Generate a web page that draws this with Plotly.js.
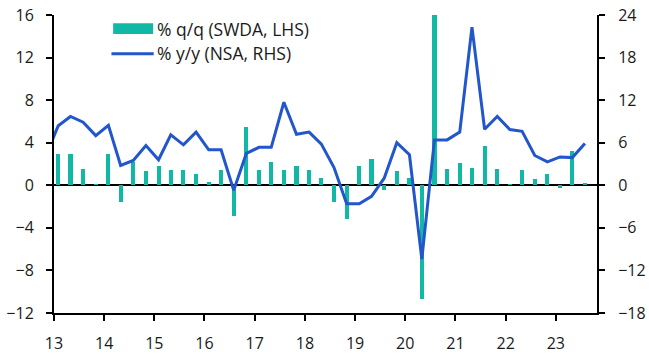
<!DOCTYPE html>
<html>
<head>
<meta charset="utf-8">
<script src="https://cdn.plot.ly/plotly-3.0.1.min.js"></script>
<style>html,body{margin:0;padding:0;background:#fff;}#chart{width:649px;height:356px;}</style>
</head>
<body>
<div id="chart"></div>
<script>
// Quarter dates (mid-quarter month start), 2012Q4 .. 2023Q3
const dates = [
  '2012-11-01',
  '2013-02-01','2013-05-01','2013-08-01','2013-11-01',
  '2014-02-01','2014-05-01','2014-08-01','2014-11-01',
  '2015-02-01','2015-05-01','2015-08-01','2015-11-01',
  '2016-02-01','2016-05-01','2016-08-01','2016-11-01',
  '2017-02-01','2017-05-01','2017-08-01','2017-11-01',
  '2018-02-01','2018-05-01','2018-08-01','2018-11-01',
  '2019-02-01','2019-05-01','2019-08-01','2019-11-01',
  '2020-02-01','2020-05-01','2020-08-01','2020-11-01',
  '2021-02-01','2021-05-01','2021-08-01','2021-11-01',
  '2022-02-01','2022-05-01','2022-08-01','2022-11-01',
  '2023-02-01','2023-05-01','2023-08-01'
];
// % q/q (SWDA, LHS)
const qoq = [
  null,
  2.9, 2.9, 1.5, 0.15,
  2.9, -1.6, 2.2, 1.3,
  1.85, 1.45, 1.4, 1.1,
  0.35, 1.4, -2.9, 5.5,
  1.4, 2.2, 1.45, 1.85,
  1.45, 0.65, -1.6, -3.2,
  1.85, 2.5, -0.4, 1.3,
  0.65, -10.7, 16.5, 1.5,
  2.05, 1.65, 3.65, 1.55,
  0.15, 1.4, 0.55, 1.1,
  -0.3, 3.25, 0.25
];
// % y/y (NSA, RHS)
const yoy = [
  4.1,
  8.4, 9.7, 8.9, 7.0,
  8.45, 2.8, 3.5, 5.6,
  3.6, 7.1, 5.7, 7.5,
  5.0, 5.0, -0.7, 4.5,
  5.35, 5.35, 11.7, 7.2,
  7.5, 5.8, 2.5, -2.6,
  -2.6, -1.55, 1.0, 6.0,
  4.3, -10.4, 6.4, 6.4,
  7.5, 22.3, 7.9, 9.7,
  7.85, 7.6, 4.2, 3.3,
  4.0, 3.9, 5.9
];
const yearTicks = ['2013-01-01','2014-01-01','2015-01-01','2016-01-01','2017-01-01','2018-01-01','2019-01-01','2020-01-01','2021-01-01','2022-01-01','2023-01-01'];
const yearLabels = ['13','14','15','16','17','18','19','20','21','22','23'];
const leftTicks = [-12,-8,-4,0,4,8,12,16];
const rightTicks = [-18,-12,-6,0,6,12,18,24];
const seriesNames = ['% q/q (SWDA, LHS)', '% y/y (NSA, RHS)'];

const teal = '#12B8A6';
const blue = '#2156CC';
const W = 649, H = 356;
const M = {l: 53.5, r: 52, t: 15, b: 43};
const pw = W - M.l - M.r, ph = H - M.t - M.b;
const px = x => (x - M.l) / pw;
const py = y => 1 - (y - M.t) / ph;

const font = {family: '"Open Sans", "Noto Sans", sans-serif', size: 16, color: '#1a1a1a'};
const legendFont = Object.assign({}, font, {size: 17.5});

const traces = [
  {type: 'bar', x: dates, y: qoq, name: seriesNames[0], marker: {color: teal},
   width: 30 * 86400000, yaxis: 'y', hoverinfo: 'skip'},
  {type: 'scatter', mode: 'lines', x: dates, y: yoy, name: seriesNames[1],
   line: {color: blue, width: 3}, yaxis: 'y2', hoverinfo: 'skip'}
];

const axisCommon = {
  showgrid: false, showline: true, linecolor: '#000', linewidth: 2,
  ticks: 'outside', ticklen: 6, tickwidth: 2, tickcolor: '#000',
  tickfont: font, fixedrange: true
};

const layout = {
  width: W, height: H,
  margin: M,
  paper_bgcolor: '#fff', plot_bgcolor: '#fff',
  showlegend: false,
  bargap: 0,
  xaxis: Object.assign({}, axisCommon, {
    type: 'date', range: ['2013-01-01', '2023-10-28'],
    tickmode: 'array', tickvals: yearTicks, ticktext: yearLabels,
    zeroline: false, ticklabelstandoff: 9
  }),
  yaxis: Object.assign({}, axisCommon, {
    range: [-12, 16], tickmode: 'array', tickvals: leftTicks,
    zeroline: true, zerolinecolor: '#000', zerolinewidth: 2,
    ticklabelstandoff: 9
  }),
  yaxis2: Object.assign({}, axisCommon, {
    range: [-18, 24], tickmode: 'array', tickvals: rightTicks,
    overlaying: 'y', side: 'right', zeroline: false,
    ticklabelstandoff: 10
  }),
  shapes: [
    {type: 'rect', xref: 'paper', yref: 'paper',
     x0: px(112.7), x1: px(152.7), y0: py(34), y1: py(23.3),
     fillcolor: teal, line: {width: 0}},
    {type: 'line', xref: 'paper', yref: 'paper',
     x0: px(111), x1: px(153.3), y0: py(53.8), y1: py(53.8),
     line: {color: blue, width: 3}}
  ],
  annotations: [
    {xref: 'paper', yref: 'paper', x: px(155), y: py(28.5), xanchor: 'left', yanchor: 'middle',
     text: seriesNames[0], showarrow: false, font: legendFont},
    {xref: 'paper', yref: 'paper', x: px(155), y: py(53.5), xanchor: 'left', yanchor: 'middle',
     text: seriesNames[1], showarrow: false, font: legendFont}
  ]
};

Plotly.newPlot('chart', traces, layout, {staticPlot: true, displayModeBar: false});
</script>
</body>
</html>
